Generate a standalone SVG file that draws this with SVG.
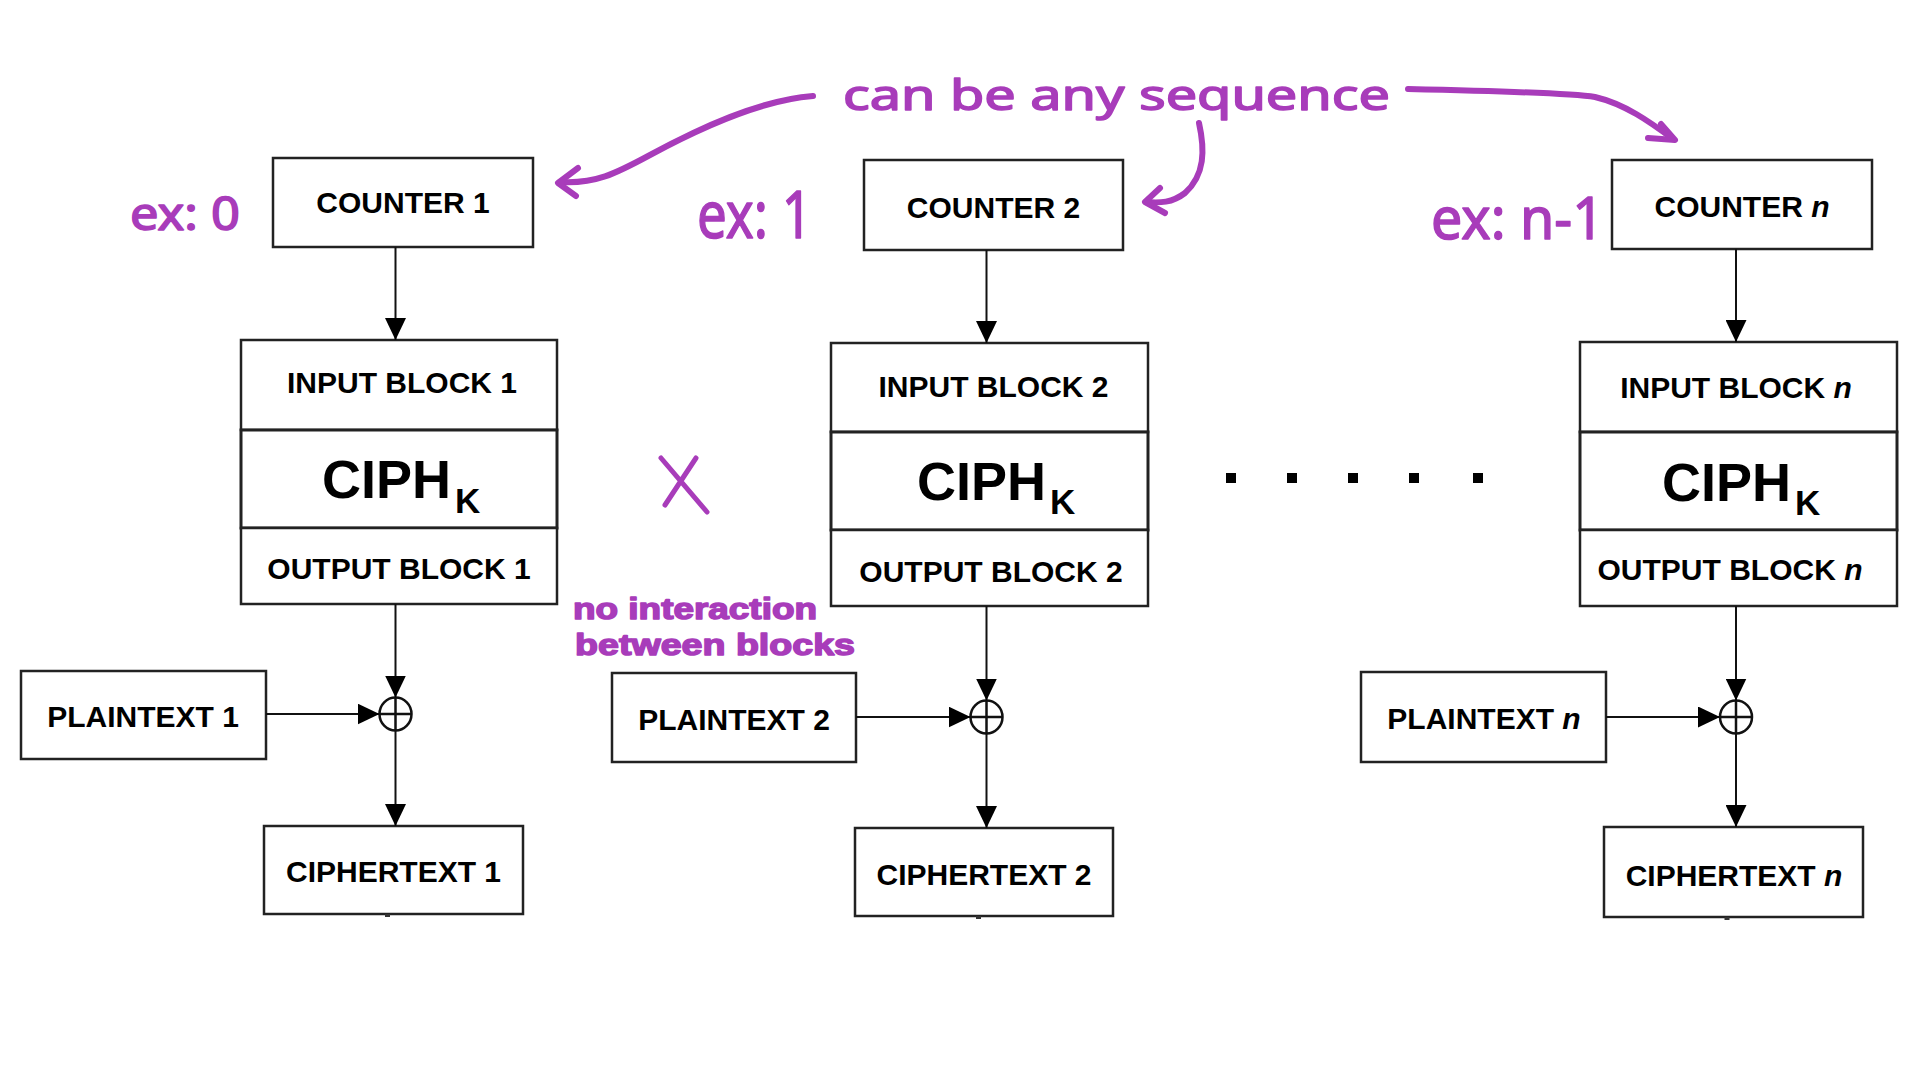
<svg xmlns="http://www.w3.org/2000/svg" width="1920" height="1080" viewBox="0 0 1920 1080">
<style>
.box{fill:#fff;stroke:#222;stroke-width:2.5}
.lbl{font-family:"Liberation Sans",Arial,sans-serif;font-weight:bold;font-size:30px;fill:#000;text-anchor:middle}
.ciph{font-size:54px;text-anchor:start}
.sub{font-size:35px}
.conn{stroke:#111;stroke-width:2;fill:none}
.xor{stroke:#111;stroke-width:2.5;fill:none}
.hand{font-family:"Noto Sans",sans-serif;fill:#a83cba;stroke:#a83cba;stroke-width:1.5;stroke-linejoin:round}
.hand2{font-family:"Liberation Sans",Arial,sans-serif;font-weight:bold;font-size:30px;fill:#a83cba;stroke:#a83cba;stroke-width:1.5;stroke-linejoin:round}
.pen{stroke:#a83cba;stroke-width:6;fill:none;stroke-linecap:round;stroke-linejoin:round}
.dot{fill:#000}
</style>
<defs>
<marker id="ah" markerUnits="userSpaceOnUse" markerWidth="22" markerHeight="21" refX="22" refY="10.5" orient="auto">
<path d="M0,0 L22,10.5 L0,21 Z" fill="#000"/>
</marker>
</defs>
<rect width="1920" height="1080" fill="#fff"/>

<!-- Block 1 -->
<g id="counter1"><rect class="box" x="273" y="158" width="260" height="89"/><text class="lbl" x="403" y="213">COUNTER 1</text></g>
<g id="cipher-stack1">
<rect class="box" x="241" y="340" width="316" height="90"/>
<rect class="box" x="241" y="430" width="316" height="98" style="stroke-width:3"/>
<rect class="box" x="241" y="528" width="316" height="76"/>
<text class="lbl" x="402" y="393">INPUT BLOCK 1</text>
<text class="lbl ciph" x="322" y="498">CIPH<tspan class="sub" dx="4" dy="15">K</tspan></text>
<text class="lbl" x="399" y="579">OUTPUT BLOCK 1</text>
</g>
<g id="plaintext1"><rect class="box" x="21" y="671" width="245" height="88"/><text class="lbl" x="143" y="727">PLAINTEXT 1</text></g>
<g id="ciphertext1"><rect class="box" x="264" y="826" width="259" height="88"/><text class="lbl" x="393.5" y="882">CIPHERTEXT 1</text></g>
<g id="xor1"><ellipse class="xor" cx="395.5" cy="714" rx="16" ry="16.5"/><line class="xor" x1="379.5" y1="714" x2="411.5" y2="714"/><line class="xor" x1="395.5" y1="697.5" x2="395.5" y2="730.5"/></g>

<!-- Block 2 -->
<g id="counter2"><rect class="box" x="864" y="160" width="259" height="90"/><text class="lbl" x="993.5" y="218">COUNTER 2</text></g>
<g id="cipher-stack2">
<rect class="box" x="831" y="343" width="317" height="89"/>
<rect class="box" x="831" y="432" width="317" height="98" style="stroke-width:3"/>
<rect class="box" x="831" y="530" width="317" height="76"/>
<text class="lbl" x="993.5" y="397">INPUT BLOCK 2</text>
<text class="lbl ciph" x="917" y="500">CIPH<tspan class="sub" dx="4" dy="14">K</tspan></text>
<text class="lbl" x="991" y="582">OUTPUT BLOCK 2</text>
</g>
<g id="plaintext2"><rect class="box" x="612" y="673" width="244" height="89"/><text class="lbl" x="734" y="730">PLAINTEXT 2</text></g>
<g id="ciphertext2"><rect class="box" x="855" y="828" width="258" height="88"/><text class="lbl" x="984" y="885">CIPHERTEXT 2</text></g>
<g id="xor2"><ellipse class="xor" cx="986.5" cy="717" rx="16" ry="16.5"/><line class="xor" x1="970.5" y1="717" x2="1002.5" y2="717"/><line class="xor" x1="986.5" y1="700.5" x2="986.5" y2="733.5"/></g>

<!-- Block n -->
<g id="countern"><rect class="box" x="1612" y="160" width="260" height="89"/><text class="lbl" x="1742" y="217">COUNTER <tspan font-style="italic">n</tspan></text></g>
<g id="cipher-stackn">
<rect class="box" x="1580" y="342" width="317" height="90"/>
<rect class="box" x="1580" y="432" width="317" height="98" style="stroke-width:3"/>
<rect class="box" x="1580" y="530" width="317" height="76"/>
<text class="lbl" x="1736" y="398">INPUT BLOCK <tspan font-style="italic">n</tspan></text>
<text class="lbl ciph" x="1662" y="501">CIPH<tspan class="sub" dx="4" dy="14">K</tspan></text>
<text class="lbl" x="1730" y="580">OUTPUT BLOCK <tspan font-style="italic">n</tspan></text>
</g>
<g id="plaintextn"><rect class="box" x="1361" y="672" width="245" height="90"/><text class="lbl" x="1484" y="729">PLAINTEXT <tspan font-style="italic">n</tspan></text></g>
<g id="ciphertextn"><rect class="box" x="1604" y="827" width="259" height="90"/><text class="lbl" x="1734" y="886">CIPHERTEXT <tspan font-style="italic">n</tspan></text></g>
<g id="xorn"><ellipse class="xor" cx="1736" cy="717" rx="16" ry="16.5"/><line class="xor" x1="1720" y1="717" x2="1752" y2="717"/><line class="xor" x1="1736" y1="700.5" x2="1736" y2="733.5"/></g>

<!-- Ellipsis dots -->
<g id="ellipsis">
<rect class="dot" x="1226" y="473" width="10" height="10"/>
<rect class="dot" x="1287" y="473" width="10" height="10"/>
<rect class="dot" x="1348" y="473" width="10" height="10"/>
<rect class="dot" x="1409" y="473" width="10" height="10"/>
<rect class="dot" x="1473" y="473" width="10" height="10"/>
</g>

<!-- Connectors -->
<g id="connectors">
<line class="conn" x1="395.5" y1="247" x2="395.5" y2="340" marker-end="url(#ah)"/>
<line class="conn" x1="395.5" y1="604" x2="395.5" y2="697.5" marker-end="url(#ah)"/>
<line class="conn" x1="266" y1="714" x2="379.5" y2="714" marker-end="url(#ah)"/>
<line class="conn" x1="395.5" y1="730.5" x2="395.5" y2="826" marker-end="url(#ah)"/>
<line class="conn" x1="387.5" y1="914" x2="387.5" y2="917" style="stroke-width:5;stroke:#333"/>

<line class="conn" x1="986.5" y1="250" x2="986.5" y2="343" marker-end="url(#ah)"/>
<line class="conn" x1="986.5" y1="606" x2="986.5" y2="700.5" marker-end="url(#ah)"/>
<line class="conn" x1="856" y1="717" x2="970.5" y2="717" marker-end="url(#ah)"/>
<line class="conn" x1="986.5" y1="733.5" x2="986.5" y2="828" marker-end="url(#ah)"/>
<line class="conn" x1="978.5" y1="916" x2="978.5" y2="919" style="stroke-width:5;stroke:#333"/>

<line class="conn" x1="1736" y1="249" x2="1736" y2="342" marker-end="url(#ah)"/>
<line class="conn" x1="1736" y1="606" x2="1736" y2="700.5" marker-end="url(#ah)"/>
<line class="conn" x1="1606" y1="717" x2="1720" y2="717" marker-end="url(#ah)"/>
<line class="conn" x1="1736" y1="733.5" x2="1736" y2="827" marker-end="url(#ah)"/>
<line class="conn" x1="1727" y1="917" x2="1727" y2="920" style="stroke-width:5;stroke:#333"/>
</g>

<!-- Handwritten annotations -->
<g id="annotations">
<text class="hand" x="843" y="110" font-size="42" textLength="547" lengthAdjust="spacingAndGlyphs">can be any sequence</text>
<path class="pen" d="M813,96 C760,100 700,128 650,155 C615,174 595,184 560,182"/>
<polyline class="pen" points="578,168 558,183 576,196"/>
<path class="pen" d="M1199,123 C1205,150 1205,175 1185,193 C1172,203 1160,203 1146,202"/>
<polyline class="pen" points="1160,188 1145,202 1165,213"/>
<path class="pen" d="M1408,89 C1500,91 1570,93 1595,97 C1625,104 1650,122 1673,139"/>
<polyline class="pen" points="1661,124 1675,140 1648,138"/>

<text class="hand" x="130" y="230" font-size="45" textLength="110" lengthAdjust="spacingAndGlyphs">ex: 0</text>
<text class="hand" x="697" y="238" font-size="66" textLength="115" lengthAdjust="spacingAndGlyphs">ex: 1</text>
<text class="hand" x="1431" y="239" font-size="58" textLength="173" lengthAdjust="spacingAndGlyphs">ex: n-1</text>

<path class="pen" d="M661,458 L707,512 M696,458 L665,505" style="stroke-width:5"/>

<text class="hand2" x="573" y="619" textLength="244" lengthAdjust="spacingAndGlyphs">no interaction</text>
<text class="hand2" x="575" y="655" textLength="280" lengthAdjust="spacingAndGlyphs">between blocks</text>
</g>
</svg>
